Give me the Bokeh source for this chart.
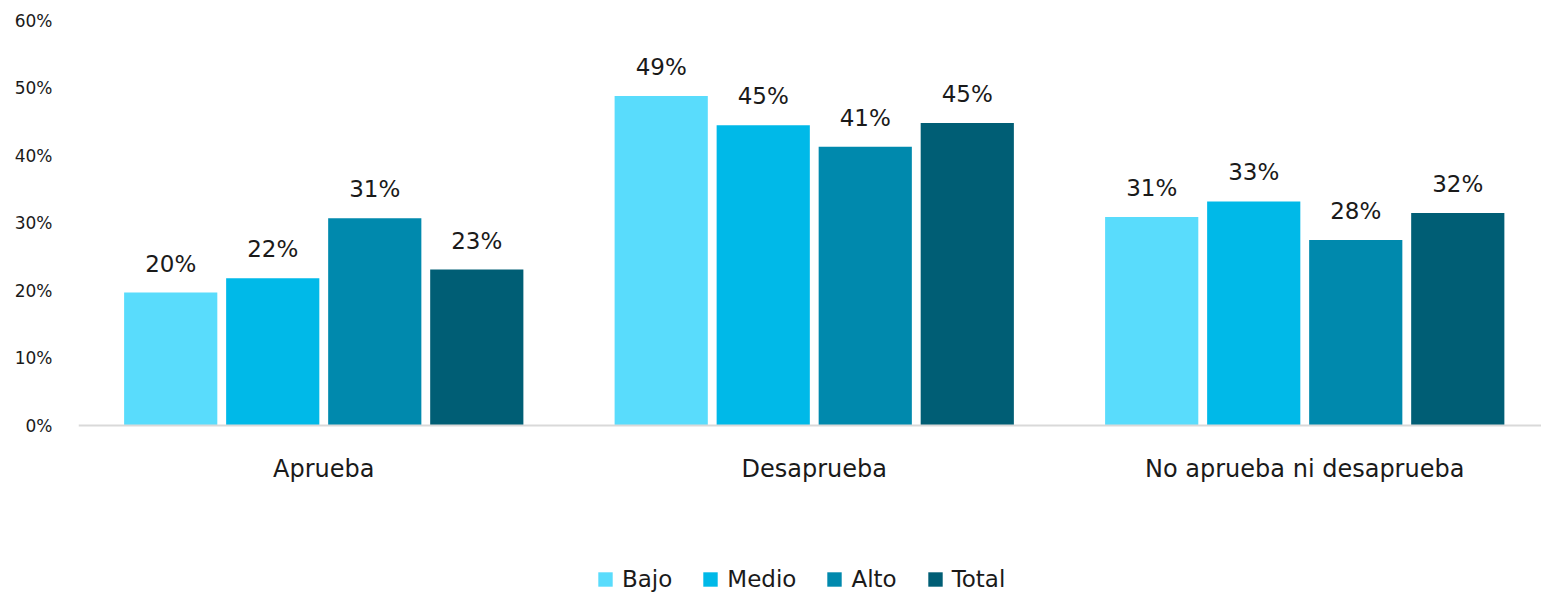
from bokeh.plotting import figure
from bokeh.models import ColumnDataSource, Range1d, FixedTicker, CustomJSTickFormatter, Legend, LegendItem
from bokeh.core.properties import value
from bokeh.embed import file_html
from bokeh.resources import INLINE

categories = ["Aprueba", "Desaprueba", "No aprueba ni desaprueba"]
series = ["Bajo", "Medio", "Alto", "Total"]
bajo = [19.7, 48.8, 30.9]
medio = [21.8, 44.5, 33.2]
alto = [30.7, 41.3, 27.5]
total = [23.1, 44.8, 31.5]
colors = ["#59DCFC", "#00B9E8", "#0089AD", "#005E75"]
y_ticks = [0, 10, 20, 30, 40, 50, 60]

FONT = "DejaVu Sans"
TXT = "#1a1a1a"

p = figure(width=1541, height=593, x_range=Range1d(0, 2.9827),
           y_range=Range1d(-168 / 6.75, 60), output_backend="svg", toolbar_location=None,
           min_border_left=78, min_border_right=0, min_border_top=20, min_border_bottom=0)
p.outline_line_color = None
p.xgrid.visible = False
p.ygrid.visible = False

offsets = [-0.312, -0.104, 0.104, 0.312]
xs = [i + 0.5 for i in range(len(categories))]
items = []
for name, vals, col, off in zip(series, [bajo, medio, alto, total], colors, offsets):
    src = ColumnDataSource(dict(x=[x + off for x in xs], y=vals,
                                label=[f"{int(v + 0.5)}%" for v in vals]))
    r = p.vbar(x="x", top="y", width=0.19, source=src, fill_color=col, line_color=None)
    p.text(x="x", y="y", text="label", source=src,
           text_align="center", text_baseline="alphabetic", y_offset=-29,
           text_font=value(FONT), text_font_size="23px", text_color=TXT)
    items.append(LegendItem(label=name, renderers=[r]))

p.yaxis.ticker = FixedTicker(ticks=y_ticks)
p.yaxis.formatter = CustomJSTickFormatter(code="return tick + '%';")
p.yaxis.axis_line_color = None
p.yaxis.major_tick_line_color = None
p.yaxis.minor_tick_line_color = None
p.yaxis.major_label_standoff = 20
p.yaxis.major_label_text_font = FONT
p.yaxis.major_label_text_font_size = "17px"
p.yaxis.major_label_text_color = TXT

p.xaxis.fixed_location = 0
p.xaxis.ticker = FixedTicker(ticks=xs)
p.xaxis.major_label_overrides = {x: c for x, c in zip(xs, categories)}
p.xaxis.axis_line_color = "#D9D9D9"
p.xaxis.axis_line_width = 2
p.xaxis.major_tick_line_color = None
p.xaxis.minor_tick_line_color = None
p.xaxis.major_label_standoff = 23
p.xaxis.major_label_text_font = FONT
p.xaxis.major_label_text_font_size = "24px"
p.xaxis.major_label_text_color = TXT

lg = Legend(items=items, orientation="horizontal", location=(518, 1))
lg.border_line_color = None
lg.background_fill_alpha = 0
lg.margin = 0
lg.padding = 0
lg.glyph_width = 18
lg.glyph_height = 18
lg.label_standoff = 8
lg.spacing = 29
lg.label_text_font = FONT
lg.label_text_font_size = "23px"
lg.label_text_color = TXT
p.add_layout(lg, "center")

open("out.html", "w").write(file_html(p, INLINE))
